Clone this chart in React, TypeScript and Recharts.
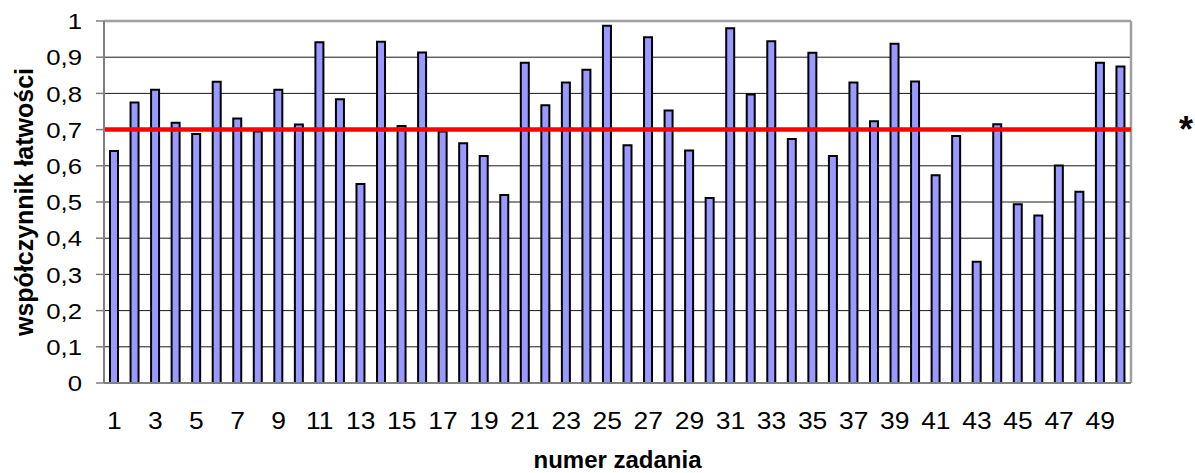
import { BarChart, Bar, XAxis, YAxis, CartesianGrid, ReferenceLine } from 'recharts'

// numer zadania
const zadania = [
  1, 2, 3, 4, 5, 6, 7, 8, 9, 10, 11, 12, 13, 14, 15, 16, 17, 18, 19, 20, 21, 22, 23, 24, 25,
  26, 27, 28, 29, 30, 31, 32, 33, 34, 35, 36, 37, 38, 39, 40, 41, 42, 43, 44, 45, 46, 47, 48, 49, 50,
]

// współczynnik łatwości
const latwosc = [
  0.641, 0.775, 0.81, 0.719, 0.688, 0.832, 0.731, 0.695, 0.81, 0.714,
  0.941, 0.784, 0.55, 0.943, 0.71, 0.913, 0.695, 0.662, 0.627, 0.519,
  0.885, 0.767, 0.83, 0.865, 0.987, 0.657, 0.955, 0.753, 0.642, 0.511,
  0.98, 0.797, 0.944, 0.674, 0.912, 0.627, 0.83, 0.723, 0.937, 0.833,
  0.574, 0.682, 0.335, 0.715, 0.494, 0.463, 0.601, 0.528, 0.885, 0.874,
]

const yTicks = [0, 0.1, 0.2, 0.3, 0.4, 0.5, 0.6, 0.7, 0.8, 0.9, 1]
// category boundaries (tick marks between bars)
const granice = [0, ...zadania]
const prog = 0.7

const data = zadania.map((n, i) => ({ zadanie: n, latwosc: latwosc[i] }))

const FONT = '"Liberation Sans", Arial, sans-serif'
const AXIS = '#808080'

const fmt = (v: number) => (Number.isInteger(v) ? String(v) : v.toFixed(1).replace('.', ','))

function XTick({ x, y, payload }: any) {
  return (
    <g transform={`translate(${x},${y})`}>
      <text transform="scale(1.15,1)" textAnchor="middle" dy="0.71em" fontSize={23} fill="#000" fontFamily={FONT}>
        {payload.value}
      </text>
    </g>
  )
}

function YTick({ x, y, payload }: any) {
  return (
    <g transform={`translate(${x},${y})`}>
      <text transform="scale(1.12,1)" textAnchor="end" dy="0.355em" fontSize={23} fill="#000" fontFamily={FONT}>
        {fmt(payload.value)}
      </text>
    </g>
  )
}

export default function App() {
  return (
    <div style={{ position: 'absolute', left: 0, top: 0, width: 1195, height: 473, background: '#fff', fontFamily: FONT }}>
      <BarChart
        width={1195}
        height={473}
        data={data}
        margin={{ top: 21, right: 64, bottom: 0, left: 0 }}
        barSize={8}
      >
        <CartesianGrid vertical={false} stroke="#1a1a1a" strokeWidth={1} xAxisId="b" />
        <XAxis
          xAxisId="b"
          type="number"
          dataKey="zadanie"
          domain={[0, 50]}
          allowDataOverflow
          ticks={granice}
          interval={0}
          tick={false}
          tickSize={7}
          height={8}
          axisLine={{ stroke: AXIS, strokeWidth: 2 }}
          tickLine={{ stroke: AXIS, strokeWidth: 1.5 }}
        />
        <XAxis
          xAxisId="cat"
          dataKey="zadanie"
          interval={1}
          height={82}
          axisLine={false}
          tickLine={false}
          tickSize={20}
          tickMargin={2}
          tick={<XTick />}
          label={{
            value: 'numer zadania',
            position: 'insideBottom',
            offset: 5,
            style: { fontWeight: 'bold', fontSize: 24, fill: '#000', fontFamily: FONT },
          }}
        />
        <YAxis
          width={104}
          domain={[0, 1]}
          ticks={yTicks}
          interval={0}
          tickSize={8}
          tickMargin={14}
          tick={<YTick />}
          axisLine={{ stroke: AXIS, strokeWidth: 2 }}
          tickLine={{ stroke: AXIS, strokeWidth: 1.5 }}
          label={{
            value: 'współczynnik łatwości',
            angle: -90,
            position: 'insideLeft',
            offset: 24,
            style: { textAnchor: 'middle', fontWeight: 'bold', fontSize: 25, fill: '#000', fontFamily: FONT },
          }}
        />
        <Bar
          xAxisId="cat"
          dataKey="latwosc"
          fill="#9999FF"
          stroke="#000"
          strokeWidth={2}
          isAnimationActive={false}
        />
        <ReferenceLine xAxisId="b" y={1} stroke="#a0a0a0" strokeWidth={2.5} />
        <ReferenceLine xAxisId="b" x={50} stroke="#a0a0a0" strokeWidth={2.5} />
        <ReferenceLine
          xAxisId="b"
          y={prog}
          stroke="#FF0000"
          strokeWidth={4.5}
          label={{
            value: '*',
            position: 'right',
            offset: 48,
            style: { fontWeight: 'bold', fontSize: 36, fill: '#000', fontFamily: FONT },
          }}
        />
      </BarChart>
    </div>
  )
}
